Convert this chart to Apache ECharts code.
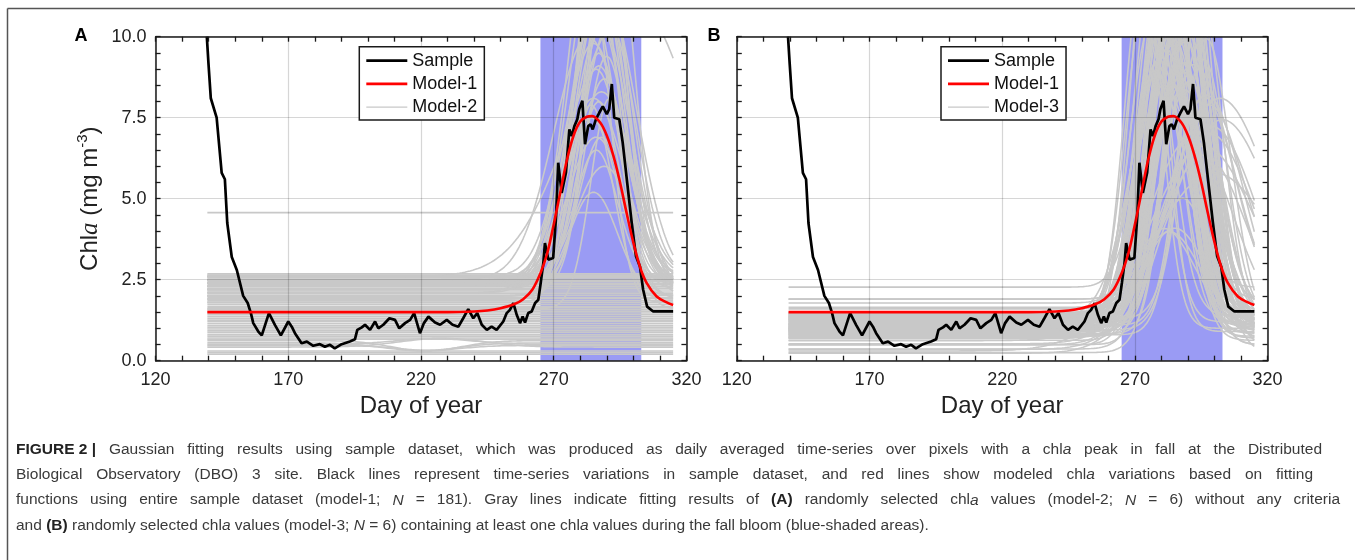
<!DOCTYPE html>
<html><head><meta charset="utf-8">
<script src="https://cdn.jsdelivr.net/npm/echarts@6/dist/echarts.min.js"></script>
<style>html,body{margin:0;padding:0;background:#fff}#c{width:1355px;height:560px}</style>
</head><body><div id="c"></div>
<script>
// ---------- data ----------
const xTicks = [120, 170, 220, 270, 320];
const yTicks = [0, 2.5, 5, 7.5, 10];
const bloomDays = [265, 303];          // blue-shaded fall bloom
const modelDays = [139.5, 315];        // extent of the fitted curves

const sampleDay = [139.3,139.9,140.8,143.0,144.9,146.1,147.0,148.7,150.6,153.0,154.7,155.9,156.8,158.7,160.0,162.7,165.0,167.2,170.0,171.3,172.5,175.0,177.0,179.4,181.9,183.8,185.7,187.5,190.1,193.2,195.1,196.0,197.7,198.9,200.8,202.7,203.9,205.8,208.1,210.2,211.8,214.0,215.9,217.4,219.6,221.1,222.8,225.3,227.2,229.7,231.9,234.1,235.9,237.8,239.7,241.2,242.9,244.8,246.6,248.5,251.0,252.3,253.5,254.8,256.1,257.3,258.3,259.2,260.4,261.7,263.0,264.2,265.1,266.1,266.7,268.0,269.8,270.9,271.7,273.0,274.6,275.9,276.8,277.8,278.9,279.6,280.8,281.8,283.0,283.9,284.7,285.9,287.2,288.5,290.0,290.9,291.9,292.8,294.7,296.0,297.7,299.4,301.0,302.5,303.7,305.2,307.5,315.0];
const sampleChl = [10.0,9.2,8.1,7.5,5.8,5.6,4.25,3.2,2.8,2.0,1.78,1.47,1.16,0.9,0.78,1.47,1.1,0.78,1.21,1.05,0.85,0.54,0.59,0.46,0.51,0.43,0.49,0.38,0.51,0.59,0.66,0.95,1.03,1.11,0.95,1.21,1.0,1.11,1.31,1.26,1.0,1.16,1.26,1.47,0.85,1.16,1.36,1.18,1.11,1.26,1.11,1.05,1.31,1.59,1.31,1.47,1.11,0.95,1.05,0.95,1.21,1.47,1.57,1.78,1.41,1.16,1.36,1.18,1.47,1.52,1.78,1.88,2.4,3.02,3.63,3.12,3.17,4.46,6.11,5.18,5.8,7.14,6.93,7.24,7.45,7.76,8.02,6.68,7.24,7.3,7.14,7.45,7.66,7.85,7.61,7.76,8.54,7.5,7.45,6.73,5.49,4.25,3.22,2.91,2.19,1.67,1.52,1.52];

const model1Day = [139.5,230,240,245,250,255,258.5,262,265,267.5,270,272.5,275,277.5,280,282.5,284.5,287.5,290,292.5,295,297.5,300,302.5,305,308.8,312.6,315];
const model1Chl = [1.5,1.5,1.52,1.55,1.62,1.74,1.9,2.2,2.7,3.3,4.2,5.2,6.2,6.95,7.38,7.53,7.55,7.35,6.95,6.32,5.5,4.55,3.65,2.9,2.4,1.98,1.8,1.72];

// Model-2 (panel A): flat fits and Gaussian fits (baseline, amplitude, centre day, width in days)
const model2Flat = [4.57,2.68,2.64,2.6,2.56,2.52,2.48,2.44,2.39,2.34,2.29,2.24,2.18,2.12,2.07,2.02,1.96,1.91,1.85,1.8,1.74,1.68,1.63,1.57,1.52,1.47,1.42,1.36,1.3,1.25,1.2,1.14,1.08,1.03,0.98,0.92,0.87,0.81,0.76,0.7,0.66,0.3,0.25,0.2];
const model2Base   = [2.5,2.4,2.3,2.6,2.0,2.2,2.5,2.1,2.4,2.3,1.9,2.5,2.2,2.0,2.6,2.4,2.3,2.5,1.8,2.2,2.5,1.6,0.62,0.55,0.47,0.42,0.5,2.5,2.3,2.6,2.2,2.4,2.0,2.5,2.3,2.1,2.6,2.4,1.9];
const model2Amp    = [9.5,8.8,8.0,7.2,7.5,6.8,6.2,6.0,5.6,5.2,5.0,4.0,3.8,3.2,8.5,9.0,8.0,11,10,12,7.5,6.5,-0.32,-0.24,-0.15,0.27,0.18,10,9,6.5,8.5,7,9.5,5.8,4.6,11,7.8,12,6];
const model2Center = [287,286,288,285,287,286,289,285,287,284,288,286,289,285,300,289,288,290,284,292,283,291,222,220,223,228,225,286,288,287,285,290,289,288,286,287,291,286,284];
const model2Width  = [9,10,9,11,8,10,9,12,8,10,9,8,11,9,22,12,11,7,7,8,13,7,13,14,12,16,15,8,10,10,9,8,9,12,11,11,10,10,8];

// Model-3 (panel B): Gaussian fits
const model3Base = [1.00,1.20,0.90,1.40, 0.80,1.10,1.30,0.95, 0.98,1.28,0.49,0.82,
  1.00,0.52,0.35,0.23,0.62,1.14,0.86,1.44,0.70,0.30,1.65,1.90,
  1.50,2.27,1.04,1.42,0.92,1.12,1.34,1.46,0.76,1.18, 1.78,1.26,0.96,1.06,0.25,0.88,1.36,1.16,0.74,1.38,
  0.84,1.08,0.94,0.78,1.15,0.95,1.35,1.05,1.25,0.85, 1.45,1.00,1.20,0.90,1.30,1.10,0.80,1.40,1.10,0.90,
  1.30,1.00,0.70,1.60,0.36,1.05,1.25,0.50,1.35,0.98, 1.12,0.70,1.22,0.63,1.48,1.32,1.02,0.72,1.90,0.49];
const model3Amp = [11,10,12,9, 9,10,8,9, 3.0,2.8,3.6,4.2,
  7.1,6.5,6,7,6,8,6,6,7.5,5.5,6.5,6,
  10,8,12,13,10,11,9,14,12,10, 9,11,8.5,13,9,10,8,12,8,10,
  11,9.5,8,10,11,9,12,8,10,13, 9,11,8,12,10,9,8,12,14,15,
  8,7.5,10,12,8,9,7,10,8.5,11, 9,12,13,9,10,11,7.5,9,8,8];
const model3Center = [273,274,275,276, 294,295,296,297, 283,281,285,288,
  302,298,296,299,296,292,291,303,297,300,296,298,
  281,282,283,286,285,288,282,287,284,290, 286,289,283,291,290,280,280,285,287,281,
  289,280,288,291,280,282,281,279,283,282, 284,286,288,290,291,289,290,287,285,283,
  279,281,280,288,289,290,287,286,289,288, 279,280,287,282,284,285,284,283,285,284];
const model3Width = [7,7.5,7,8, 7.7,8,8.5,9, 12,11,13,10,
  19,18,17,18,20,15,16,18,14,24,12,13,
  8,9,8,7,9,8,7.5,9,7,8, 10,9,9,8,9,9,11,11,12,10,
  7,10,10,9,8,9,7,9,10,8, 10,9,11,9,8,8,10,8,10,11,
  10,12,9,10,10,11,12,8,11,9, 8,9,8,8,8,7,9,10,9,9];

const captionLines = [
  '{b|FIGURE 2 |} Gaussian fitting results using sample dataset, which was produced as daily averaged time-series over pixels with a chl{i|a} peak in fall at the Distributed',
  'Biological Observatory (DBO) 3 site. Black lines represent time-series variations in sample dataset, and red lines show modeled chl{i|a} variations based on fitting',
  'functions using entire sample dataset (model-1; {i|N} = 181). Gray lines indicate fitting results of {b|(A)} randomly selected chl{i|a} values (model-2; {i|N} = 6) without any criteria',
  'and {b|(B)} randomly selected chl{i|a} values (model-3; {i|N} = 6) containing at least one chl{i|a} values during the fall bloom (blue-shaded areas).'
];
const captionRightEdge = [1322, 1313, 1340, null];   // justified lines end here; last line is natural width

// ---------- chart ----------
const FONT = '"Liberation Sans", Arial, Helvetica, sans-serif';
const AX = '#1a1a1a';
const GRAY = '#c8c8c8';
const chart = echarts.init(document.getElementById('c'), null, {renderer: 'canvas', width: 1355, height: 560});

function pairs(xs, ys) { const n = Math.min(xs.length, ys.length); const o = []; for (let i = 0; i < n; i++) o.push([xs[i], ys[i]]); return o; }
function gaussFit(b, a, c, s) {
  const o = [];
  for (let d = modelDays[0]; d <= modelDays[1] + 1e-9; d += 0.5) o.push([d, b + a * Math.exp(-(d - c) * (d - c) / (2 * s * s))]);
  return o;
}

const grids = [
  {left: 155.6, top: 36.7, width: 530.8, height: 324},
  {left: 736.8, top: 36.7, width: 530.8, height: 324}
];
const tickStyle = {color: AX, width: 1.3};
const xAxes = [], yAxes = [];
[0, 1].forEach(g => {
  xAxes.push({gridIndex: g, type: 'value', min: xTicks[0], max: xTicks[xTicks.length - 1], interval: xTicks[1] - xTicks[0], position: 'bottom', z: 10,
    axisLine: {show: true, onZero: false, lineStyle: {color: AX, width: 1.5}},
    axisTick: {show: true, inside: true, length: 5, lineStyle: tickStyle},
    minorTick: {show: true, splitNumber: 5, length: 5, lineStyle: tickStyle},
    axisLabel: {fontSize: 18, color: '#222', margin: 10, fontFamily: FONT},
    splitLine: {show: true, lineStyle: {color: 'rgba(0,0,0,0.16)', width: 1.2}},
    name: 'Day of year', nameLocation: 'middle', nameGap: 34,
    nameTextStyle: {fontSize: 24, color: '#222', fontFamily: FONT}});
  xAxes.push({gridIndex: g, type: 'value', min: xTicks[0], max: xTicks[xTicks.length - 1], interval: xTicks[1] - xTicks[0], position: 'top', z: 10,
    axisLine: {show: true, onZero: false, lineStyle: {color: AX, width: 1.5}},
    axisTick: {show: true, inside: true, length: 5, lineStyle: tickStyle},
    minorTick: {show: true, splitNumber: 5, length: 5, lineStyle: tickStyle},
    axisLabel: {show: false}, splitLine: {show: false}});
  yAxes.push({gridIndex: g, type: 'value', min: yTicks[0], max: yTicks[yTicks.length - 1], interval: yTicks[1] - yTicks[0], position: 'left', z: 10,
    axisLine: {show: true, onZero: false, lineStyle: {color: AX, width: 1.5}},
    axisTick: {show: true, inside: true, length: 5, lineStyle: tickStyle},
    minorTick: {show: true, splitNumber: 5, length: 5, lineStyle: tickStyle},
    axisLabel: g === 0 ? {fontSize: 18, color: '#222', margin: 9, fontFamily: FONT, formatter: v => v.toFixed(1)} : {show: false},
    splitLine: {show: true, lineStyle: {color: 'rgba(0,0,0,0.16)', width: 1.2}},
    name: g === 0 ? '{n|Chl}{i|a}{n| (mg m}{s|-3}{n|)}' : '', nameLocation: 'middle', nameGap: 50, nameRotate: 90,
    nameTextStyle: {fontSize: 24, color: '#222', fontFamily: FONT, rich: {
      n: {fontSize: 24, fontFamily: FONT, color: '#222', lineHeight: 30},
      i: {fontSize: 25, fontFamily: '"Liberation Serif", serif', fontStyle: 'italic', color: '#222', lineHeight: 30},
      s: {fontSize: 15, fontFamily: FONT, color: '#222', verticalAlign: 'top', lineHeight: 30}
    }}});
  yAxes.push({gridIndex: g, type: 'value', min: yTicks[0], max: yTicks[yTicks.length - 1], interval: yTicks[1] - yTicks[0], position: 'right', z: 10,
    axisLine: {show: true, onZero: false, lineStyle: {color: AX, width: 1.5}},
    axisTick: {show: true, inside: true, length: 5, lineStyle: tickStyle},
    minorTick: {show: true, splitNumber: 5, length: 5, lineStyle: tickStyle},
    axisLabel: {show: false}, splitLine: {show: false}});
});

const series = [];
function grayLine(g, name, data) {
  series.push({type: 'line', name: name, xAxisIndex: g * 2, yAxisIndex: g * 2, data: data, symbol: 'none', silent: true, z: 2,
    lineStyle: {color: GRAY, width: 1.6}, itemStyle: {color: GRAY}});
}
[0, 1].forEach(g => {
  series.push({type: 'line', name: 'bloom' + g, xAxisIndex: g * 2, yAxisIndex: g * 2, data: [], symbol: 'none', silent: true, z: 1,
    markArea: {silent: true, itemStyle: {color: '#9a9bf4', opacity: 1}, data: [[{xAxis: bloomDays[0]}, {xAxis: bloomDays[1]}]]}});
});
model2Flat.forEach(v => grayLine(0, 'Model-2', [[modelDays[0], v], [modelDays[1], v]]));
model2Base.forEach((b, i) => grayLine(0, 'Model-2', gaussFit(b, model2Amp[i], model2Center[i], model2Width[i])));
model3Base.forEach((b, i) => grayLine(1, 'Model-3', gaussFit(b, model3Amp[i], model3Center[i], model3Width[i])));
[0, 1].forEach(g => {
  series.push({type: 'line', name: 'Sample', xAxisIndex: g * 2, yAxisIndex: g * 2, data: pairs(sampleDay, sampleChl), symbol: 'none', z: 3,
    lineStyle: {color: '#000', width: 2.7}, itemStyle: {color: '#000'}});
  series.push({type: 'line', name: 'Model-1', xAxisIndex: g * 2, yAxisIndex: g * 2, data: pairs(model1Day, model1Chl), symbol: 'none', z: 4, smooth: 0.35,
    lineStyle: {color: '#ff0000', width: 2.6}, itemStyle: {color: '#ff0000'}});
});

function legendAt(left, names) {
  const icons = ['path://M0,0H41V2.8H0Z', 'path://M0,0H41V2.6H0Z', 'path://M0,0H41V1.4H0Z'];
  return {show: true, left: left, top: 46.7, orient: 'vertical', z: 20, selectedMode: false,
    backgroundColor: '#fff', borderColor: AX, borderWidth: 1.5, borderRadius: 0,
    padding: [5, 7, 4, 7], itemGap: 5.2, itemWidth: 41, itemHeight: 14, symbolKeepAspect: true,
    textStyle: {fontSize: 18, color: '#111', fontFamily: FONT},
    data: names.map((n, k) => ({name: n, icon: icons[k]}))};
}

// ---------- caption (justified lines) ----------
const CAP_SIZE = 15.5, CAP_LEFT = 16, CAP_LH = 20;
const capRich = {
  t: {fontSize: CAP_SIZE, fontFamily: FONT, fill: '#3a3a3a', lineHeight: CAP_LH, verticalAlign: 'middle'},
  b: {fontSize: CAP_SIZE, fontFamily: FONT, fontWeight: 'bold', fill: '#222', lineHeight: CAP_LH, verticalAlign: 'middle'},
  i: {fontSize: CAP_SIZE, fontFamily: FONT, fontStyle: 'italic', fill: '#3a3a3a', lineHeight: CAP_LH, verticalAlign: 'middle'}
};
const mctx = document.createElement('canvas').getContext('2d');
function fontFor(tag) { return (tag === 'b' ? 'bold ' : tag === 'i' ? 'italic ' : '') + CAP_SIZE + 'px ' + FONT; }
function justify(line, k) {
  const re = /\{(\w+)\|([^}]*)\}/g;
  const parts = []; let last = 0, m;
  while ((m = re.exec(line)) !== null) {
    if (m.index > last) parts.push({tag: null, text: line.slice(last, m.index)});
    parts.push({tag: m[1], text: m[2]});
    last = re.lastIndex;
  }
  if (last < line.length) parts.push({tag: null, text: line.slice(last)});
  const target = captionRightEdge[k];
  let natural = 0, nSp = 0;
  parts.forEach(p => { mctx.font = fontFor(p.tag); natural += mctx.measureText(p.text).width; if (!p.tag) nSp += (p.text.match(/ /g) || []).length; });
  mctx.font = fontFor(null);
  const spW = mctx.measureText(' ').width;
  const extra = target ? Math.max(0, (target - CAP_LEFT - natural) / Math.max(1, nSp)) : 0;
  const key = 'sp' + k;
  capRich[key] = {width: spW + extra, fontSize: CAP_SIZE, fontFamily: FONT, lineHeight: CAP_LH, verticalAlign: 'middle'};
  const wrapPlain = s => s.split(' ').map(w => w ? '{t|' + w + '}' : '').join('{' + key + '| }');
  return parts.map(p => p.tag ? '{' + p.tag + '|' + p.text + '}' : wrapPlain(p.text)).join('');
}

const graphic = [
  {type: 'line', shape: {x1: 7.5, y1: 8.5, x2: 1355, y2: 8.5}, style: {stroke: '#555', lineWidth: 1.5}, silent: true},
  {type: 'line', shape: {x1: 7.5, y1: 8.5, x2: 7.5, y2: 560}, style: {stroke: '#555', lineWidth: 1.5}, silent: true},
  {type: 'text', x: 81, y: 36, style: {text: 'A', fontSize: 18, fontWeight: 'bold', fontFamily: FONT, fill: '#000', align: 'center', verticalAlign: 'middle'}, silent: true},
  {type: 'text', x: 714, y: 36, style: {text: 'B', fontSize: 18, fontWeight: 'bold', fontFamily: FONT, fill: '#000', align: 'center', verticalAlign: 'middle'}, silent: true}
];
captionLines.forEach((t, k) => {
  const txt = justify(t, k);
  graphic.push({type: 'text', x: CAP_LEFT, y: 450 + k * 25.1, silent: true,
    style: {text: txt, fontSize: CAP_SIZE, fontFamily: FONT, fill: '#3a3a3a', align: 'left', verticalAlign: 'middle', lineHeight: CAP_LH, rich: capRich}});
});

chart.setOption({
  animation: false,
  backgroundColor: '#fff',
  grid: grids,
  xAxis: xAxes,
  yAxis: yAxes,
  legend: [legendAt(359.3, ['Sample', 'Model-1', 'Model-2']), legendAt(941, ['Sample', 'Model-1', 'Model-3'])],
  series: series,
  graphic: graphic
});
</script>
</body></html>
